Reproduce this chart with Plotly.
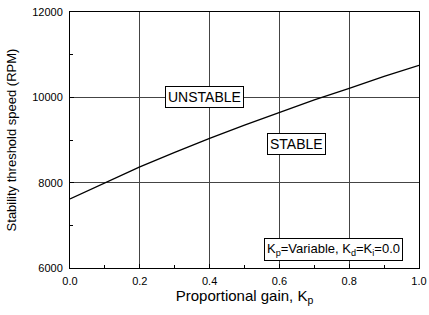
import plotly.graph_objects as go

kp = [0.0, 0.1, 0.2, 0.3, 0.4, 0.5, 0.6, 0.7, 0.8, 0.9, 1.0]
speed = [7620, 8000, 8370, 8710, 9040, 9350, 9650, 9940, 10210, 10490, 10750]
x_ticks = [0.0, 0.2, 0.4, 0.6, 0.8, 1.0]
x_tick_text = ["0.0", "0.2", "0.4", "0.6", "0.8", "1.0"]
y_ticks = [6000, 8000, 10000, 12000]
y_tick_text = ["6000", "8000", "10000", "12000"]

font = "Liberation Sans, Arial, sans-serif"

fig = go.Figure()
fig.add_trace(go.Scatter(x=kp, y=speed, mode="lines",
                         line=dict(color="black", width=1.3), showlegend=False))

fig.add_annotation(x=0.384, y=10000, text="UNSTABLE", showarrow=False,
                   font=dict(family=font, size=14, color="black"),
                   bgcolor="white", bordercolor="black", borderwidth=1, borderpad=2)
fig.add_annotation(x=0.648, y=8900, text="STABLE", showarrow=False,
                   font=dict(family=font, size=14, color="black"),
                   bgcolor="white", bordercolor="black", borderwidth=1, borderpad=2)
fig.add_annotation(x=0.755, y=6440,
                   text="K<sub>p</sub>=Variable, K<sub>d</sub>=K<sub>i</sub>=0.0",
                   showarrow=False,
                   font=dict(family=font, size=13, color="black"),
                   bgcolor="white", bordercolor="black", borderwidth=1, borderpad=2)

fig.update_layout(
    width=429, height=315,
    margin=dict(l=70, r=10, t=12, b=47),
    paper_bgcolor="white", plot_bgcolor="white",
    font=dict(family=font, size=11, color="black"),
    xaxis=dict(range=[0, 1], tickvals=x_ticks, ticktext=x_tick_text,
               automargin=False, ticklabeloverflow="allow",
               showgrid=True, gridcolor="#444", gridwidth=1,
               showline=True, linecolor="black", linewidth=1, mirror=True,
               ticks="inside", ticklen=4, tickcolor="black",
               ticklabelstandoff=3,
               minor=dict(ticks="inside", ticklen=3, dtick=0.1, tickcolor="black"),
               title=dict(text="Proportional gain, K<sub>p</sub>",
                          font=dict(family=font, size=15), standoff=4),
               zeroline=False, tickfont=dict(size=11)),
    yaxis=dict(range=[6000, 12000], tickvals=y_ticks, ticktext=y_tick_text,
               automargin=False, ticklabeloverflow="allow",
               showgrid=True, gridcolor="#444", gridwidth=1,
               showline=True, linecolor="black", linewidth=1, mirror=True,
               ticks="inside", ticklen=4, tickcolor="black",
               ticklabelstandoff=4,
               minor=dict(ticks="inside", ticklen=3, dtick=1000, tickcolor="black"),
               title=dict(text="Stability threshold speed (RPM)",
                          font=dict(family=font, size=13), standoff=12),
               zeroline=False, tickfont=dict(size=11)),
)

fig.write_html("out.html", config={"displayModeBar": False},
               post_script="document.body.style.margin='0';")
